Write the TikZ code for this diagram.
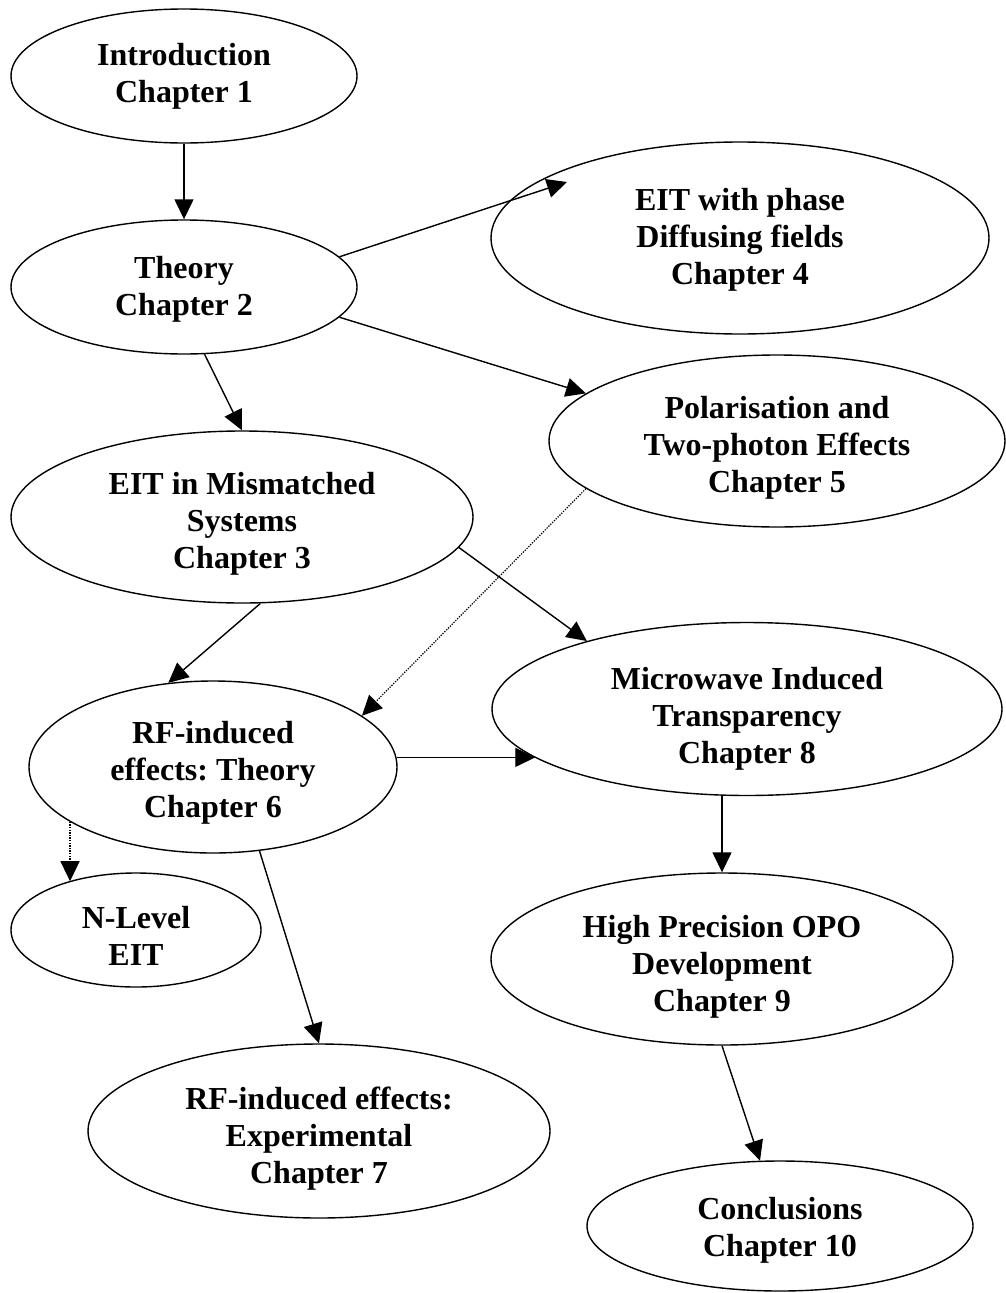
\documentclass[tikz,border=0pt]{standalone}
\usepackage{fontspec}
\setmainfont{Liberation Serif}
\frenchspacing
\usetikzlibrary{arrows.meta,shapes.geometric,calc}
\newcommand\tstr[1]{\rule{0pt}{#1pt}}
\begin{document}
\begin{tikzpicture}[x=1pt,y=-1pt,
  chap/.style={ellipse, draw, line width=1.4pt, inner sep=0pt, align=center,
    font=\fontsize{32}{37}\selectfont\bfseries},
  conn/.style={line width=1.4pt, -{Triangle[length=20pt,width=19pt]}},
  dotconn/.style={conn, line width=1.2pt, dash pattern=on 1.3pt off 1.3pt}]
\useasboundingbox (0,0) rectangle (1005,1293);
\node[chap, minimum width=346pt, minimum height=134pt] (intro) at (184,76) {Introduction\\Chapter 1};
\node[chap, minimum width=346pt, minimum height=134pt] (theory) at (184,287) {\tstr{27.5}Theory\\Chapter 2};
\node[chap, minimum width=462pt, minimum height=172pt] (ch3) at (242,517) {\tstr{35.5}EIT in Mismatched\\Systems\\Chapter 3};
\node[chap, minimum width=498pt, minimum height=192pt] (ch4) at (740,238) {\tstr{25.5}EIT with phase\\Diffusing fields\\Chapter 4};
\node[chap, minimum width=456pt, minimum height=172pt] (ch5) at (777,441) {\tstr{35.5}Polarisation and\\Two-photon Effects\\Chapter 5};
\node[chap, minimum width=368pt, minimum height=172pt] (ch6) at (213,767) {\tstr{33.5}RF-induced\\effects: Theory\\Chapter 6};
\node[chap, minimum width=462pt, minimum height=174pt] (ch7) at (319,1131) {\tstr{37.5}RF-induced effects:\\Experimental\\Chapter 7};
\node[chap, minimum width=510pt, minimum height=172pt] (ch8) at (747,709) {\tstr{41.5}Microwave Induced\\Transparency\\Chapter 8};
\node[chap, minimum width=462pt, minimum height=172pt] (ch9) at (722,959) {\tstr{37.5}High Precision OPO\\Development\\Chapter 9};
\node[chap, minimum width=250pt, minimum height=114pt] (nlevel) at (136,930) {\tstr{33.5}N-Level\\EIT};
\node[chap, minimum width=386pt, minimum height=130pt] (ch10) at (780,1226) {\tstr{31.5}Conclusions\\Chapter 10};
\coordinate (t4) at ($(ch4.center)+(-173,-56)$);
\draw[conn] (intro.south) -- (theory.north);
\draw[conn] (theory.11) -- (t4);
\draw[conn] (theory.-11) -- (ch5.166);
\draw[conn] (theory.-73) -- (ch3.north);
\draw[conn] (ch3.-78) -- (ch6.118);
\draw[conn] (ch3.-8) -- (ch8.157);
\draw[dotconn] (ch5.194) -- (ch6.19);
\draw[conn] (ch6.3) -- (ch8.193 |- ch6.3);
\draw[dotconn] (ch6.201) -- (ch6.201 |- nlevel.144);
\draw[conn] (ch6.-61) -- (ch7.north);
\draw[conn] (ch9.north |- ch8.south) -- (ch9.north);
\draw[conn] (ch9.south) -- (ch10.107);
\end{tikzpicture}
\end{document}
